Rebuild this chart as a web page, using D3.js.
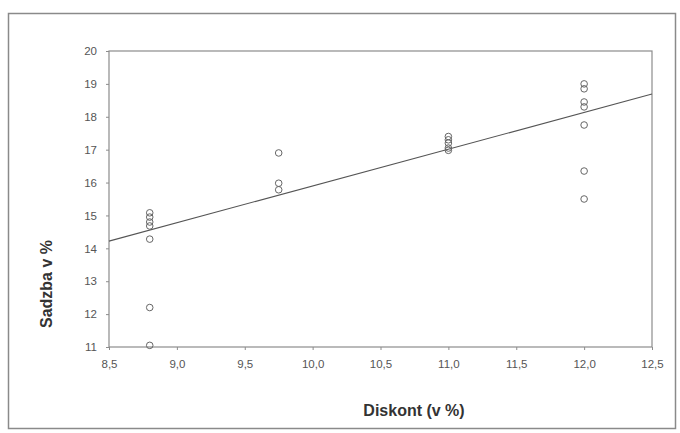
<!DOCTYPE html>
<html>
<head>
<meta charset="utf-8">
<script src="https://cdn.jsdelivr.net/npm/d3@7"></script>
<style>
  body { margin: 0; background: #fff; }
  svg { display: block; }
</style>
</head>
<body>
<div id="chart"></div>
<script>
// discount rate (x) and observed rate (y)
const diskont = [8.8, 8.8, 8.8, 8.8, 8.8, 8.8, 8.8,
  9.75, 9.75, 9.75,
  11.0, 11.0, 11.0, 11.0, 11.0,
  12.0, 12.0, 12.0, 12.0, 12.0, 12.0, 12.0]
const sadzba = [15.08, 14.95, 14.8, 14.68, 14.28, 12.2, 11.05,
  16.9, 15.98, 15.78,
  17.4, 17.3, 17.2, 17.05, 16.98,
  19.0, 18.85, 18.45, 18.3, 17.75, 16.35, 15.5]

// fitted line, read at both ends of the x range
const fitX = [8.5, 12.5]
const fitY = [14.22, 18.69]

const xTicks = [8.5, 9.0, 9.5, 10.0, 10.5, 11.0, 11.5, 12.0, 12.5]
const yTicks = [11, 12, 13, 14, 15, 16, 17, 18, 19, 20]

const width = 680
const height = 433
const margin = { top: 51, right: 28, bottom: 86, left: 109 }

const svg = d3.select('#chart')
  .append('svg')
  .attr('width', width)
  .attr('height', height)

// outer frame
svg.append('rect')
  .attr('x', 8.5)
  .attr('y', 13.5)
  .attr('width', 667)
  .attr('height', 415)
  .attr('fill', 'none')
  .attr('stroke', '#8a8a8a')
  .attr('stroke-width', 1.5)

const x = d3.scaleLinear()
  .domain([8.5, 12.5])
  .range([margin.left, width - margin.right])

const y = d3.scaleLinear()
  .domain([11, 20])
  .range([height - margin.bottom, margin.top])

const fmt = d => d3.format('.1f')(d).replace('.', ',')

// plot box
svg.append('rect')
  .attr('x', x(8.5))
  .attr('y', y(20))
  .attr('width', x(12.5) - x(8.5))
  .attr('height', y(11) - y(20))
  .attr('fill', 'none')
  .attr('stroke', '#8c8c8c')
  .attr('stroke-width', 1.2)

const xAxis = svg.append('g')
  .attr('transform', `translate(0, ${y(11)})`)
  .call(d3.axisBottom(x).tickValues(xTicks).tickFormat(fmt).tickSize(3).tickPadding(10))

const yAxis = svg.append('g')
  .attr('transform', `translate(${x(8.5)}, 0)`)
  .call(d3.axisLeft(y).tickValues(yTicks).tickFormat(d3.format('d')).tickSize(3).tickPadding(9))

;[xAxis, yAxis].forEach(g => {
  g.select('.domain').remove()
  g.selectAll('line').attr('stroke', '#8c8c8c')
  g.selectAll('text')
    .attr('fill', '#555')
    .attr('font-family', 'Liberation Sans, Arial, sans-serif')
    .attr('font-size', '11.5px')
})

// regression line
svg.append('line')
  .attr('x1', x(fitX[0]))
  .attr('y1', y(fitY[0]))
  .attr('x2', x(fitX[1]))
  .attr('y2', y(fitY[1]))
  .attr('stroke', '#555')
  .attr('stroke-width', 1.1)

// observations
svg.append('g')
  .selectAll('circle')
  .data(diskont.map((d, i) => ({ x: d, y: sadzba[i] })))
  .enter()
  .append('circle')
  .attr('cx', d => x(d.x))
  .attr('cy', d => y(d.y))
  .attr('r', 3.3)
  .attr('fill', 'none')
  .attr('stroke', '#666')
  .attr('stroke-width', 1)

// axis titles
svg.append('text')
  .attr('x', 414)
  .attr('y', 416)
  .attr('text-anchor', 'middle')
  .attr('font-family', 'Liberation Sans, Arial, sans-serif')
  .attr('font-size', '16px')
  .attr('font-weight', 'bold')
  .attr('fill', '#333')
  .text('Diskont (v %)')

svg.append('text')
  .attr('transform', 'translate(52, 284) rotate(-90)')
  .attr('text-anchor', 'middle')
  .attr('font-family', 'Liberation Sans, Arial, sans-serif')
  .attr('font-size', '16px')
  .attr('font-weight', 'bold')
  .attr('fill', '#333')
  .text('Sadzba v %')
</script>
</body>
</html>
